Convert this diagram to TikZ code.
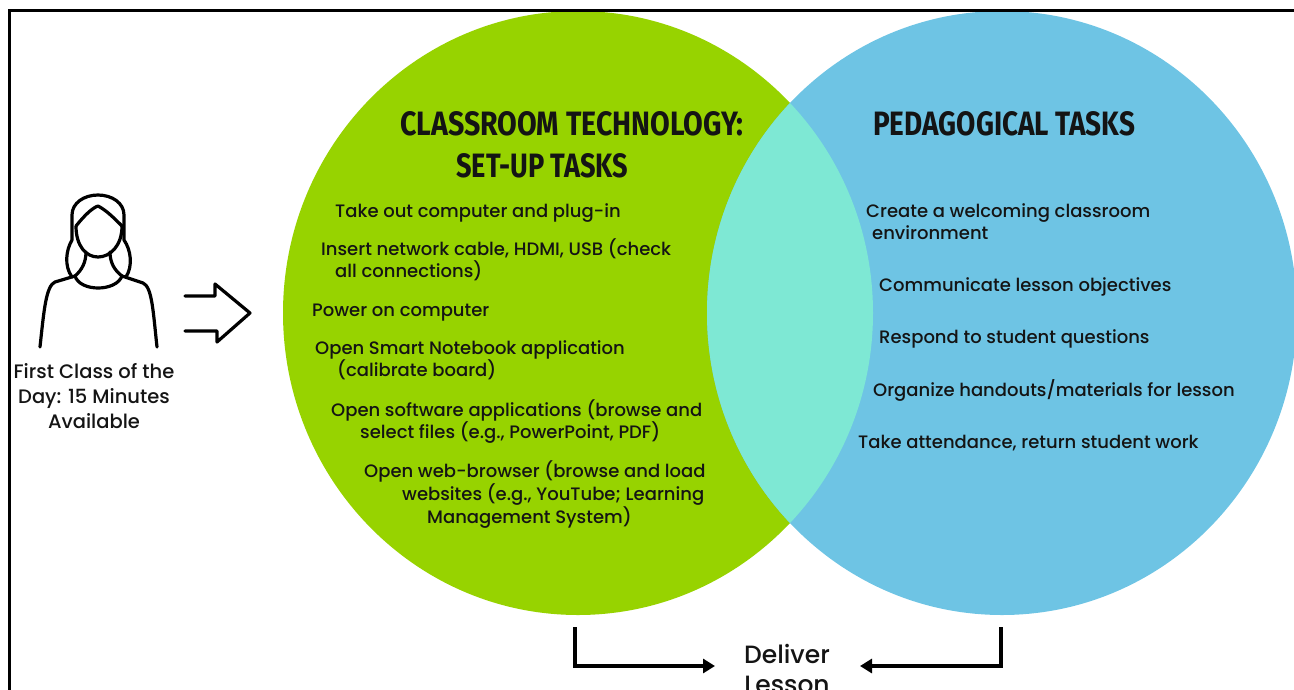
\documentclass[tikz,border=0pt]{standalone}
\usepackage{fontspec}
\setmainfont{Poppins Medium}
\newfontfamily\titlefont{Fira Sans}
\usetikzlibrary{arrows.meta}
\definecolor{vgreen}{RGB}{151,211,0}
\definecolor{vblue}{RGB}{110,196,228}
\definecolor{vcyan}{RGB}{126,232,212}
\definecolor{txt}{RGB}{20,20,20}
\tikzset{
  body/.style={anchor=base west, inner sep=0pt, text=txt, font=\fontsize{18}{22}\selectfont},
  ttl/.style={anchor=base west, inner sep=0pt, text=txt},
  icon/.style={line width=3.2pt, line cap=round, line join=round, draw=black},
  flow/.style={line width=3.2pt, draw=black, -{Triangle[length=12pt,width=14pt]}},
}
\begin{document}
\begin{tikzpicture}[x=1pt,y=-1pt]
\useasboundingbox (0,0) rectangle (1294,689);
% circles
\fill[vgreen] (578,313) ellipse [x radius=295, y radius=302];
\fill[vblue] (1002,313) ellipse [x radius=295, y radius=302];
\begin{scope}
  \clip (578,313) ellipse [x radius=295, y radius=302];
  \fill[vcyan] (1002,313) ellipse [x radius=295, y radius=302];
\end{scope}
% frame
\draw[line width=3pt] (9,700) -- (9,10) -- (1300,10);
% titles
\node[ttl] (tl1) at (400,135) {\resizebox{343pt}{24pt}{\titlefont\bfseries CLASSROOM TECHNOLOGY:}};
\node[ttl] (tl2) at (456,177) {\resizebox{172pt}{24pt}{\titlefont\bfseries SET-UP TASKS}};
\node[ttl] (tr1) at (873,135) {\resizebox{262pt}{24pt}{\titlefont\bfseries PEDAGOGICAL TASKS}};
% left items
\node[body] (a1) at (335,217) {Take out computer and plug-in};
\node[body] (a2) at (321,255) {Insert network cable, HDMI, USB (check};
\node[body] (a2b) at (335,277) {all connections)};
\node[body] (a3) at (312,316) {Power on computer};
\node[body] (a4) at (315,354) {Open Smart Notebook application};
\node[body] (a4b) at (337,376) {(calibrate board)};
\node[body] (a5) at (331,416) {Open software applications (browse and};
\node[body] (a5b) at (360,438) {select files (e.g., PowerPoint, PDF)};
\node[body] (a6) at (364,477) {Open web-browser (browse and load};
\node[body] (a6b) at (402,500) {websites (e.g., YouTube; Learning};
\node[body] (a6c) at (427,523) {Management System)};
% right items
\node[body] (b1) at (866,217) {Create a welcoming classroom};
\node[body] (b1b) at (872,239) {environment};
\node[body] (b2) at (879,291) {Communicate lesson objectives};
\node[body] (b3) at (879,343) {Respond to student questions};
\node[body] (b4) at (873,396) {Organize handouts/materials for lesson};
\node[body] (b5) at (858,448) {Take attendance, return student work};
% person icon
\draw[icon] (72,277) .. controls (64,266) and (66,250) .. (72,240) -- (72,215)
  .. controls (72,203) and (84,195) .. (98,195) .. controls (112,195) and (124,203) .. (124,215)
  -- (124,240) .. controls (131,250) and (133,266) .. (126,277);
\draw[icon] (76,226) .. controls (76,246) and (86,257) .. (98,257)
  .. controls (110,257) and (122,246) .. (122,226);
\draw[icon] (76,226) .. controls (84,216) and (92,208) .. (98,206)
  .. controls (106,210) and (114,218) .. (122,226);
\draw[icon] (86,252) .. controls (86,262) and (82,270) .. (75,276);
\draw[icon] (110,252) .. controls (110,262) and (114,270) .. (122,276);
\draw[icon] (75,276) .. controls (80,292) and (116,292) .. (122,276);
\draw[icon] (75,276) -- (55,282) .. controls (46,286) and (44,310) .. (40,347);
\draw[icon] (122,276) -- (143,283) .. controls (152,287) and (153,310) .. (157,347);
\draw[icon] (185,296) -- (215,296) -- (215,284) -- (250,313) -- (217,342) -- (217,331) -- (185,331);
\node[inner sep=0pt, text=txt, align=center, anchor=base, font=\fontsize{19.5}{25}\selectfont] (who) at (94,428)
  {First Class of the\\Day: 15 Minutes\\Available};
% deliver
\node[inner sep=0pt, text=txt, align=center, anchor=base, font=\fontsize{25}{30}\selectfont] (dl) at (787,693)
  {Deliver\\Lesson};
\coordinate (ls) at (575,627);
\coordinate (lt) at (715,666);
\coordinate (rs) at (1001,627);
\coordinate (rt) at (860,666);
\draw[flow] (ls) |- (lt);
\draw[flow] (rs) |- (rt);
\end{tikzpicture}
\end{document}
